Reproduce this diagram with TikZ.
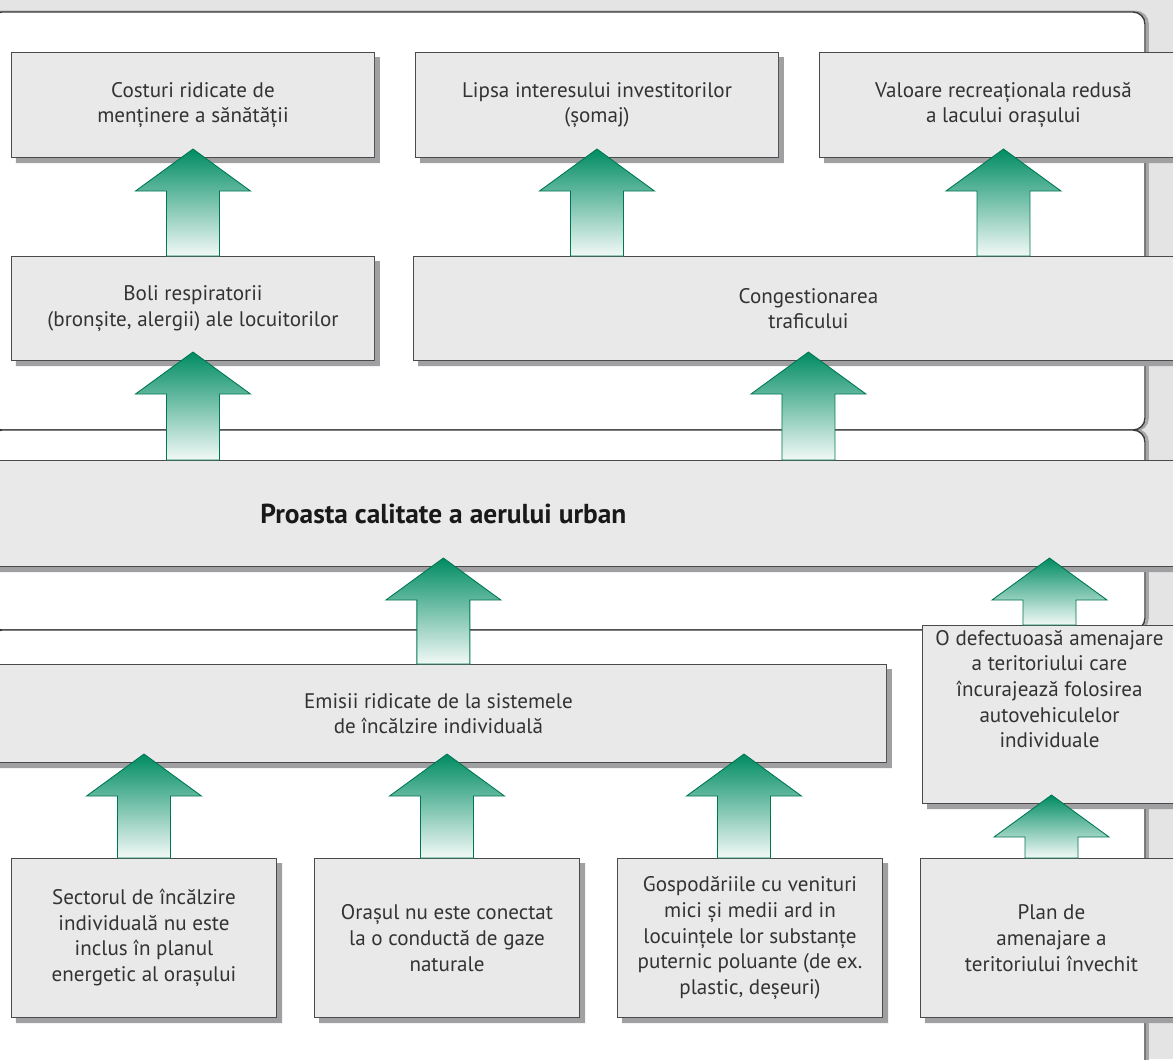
\documentclass[tikz,border=0pt]{standalone}
\usepackage{fontspec}
\setmainfont{PT Sans}
\usetikzlibrary{calc}

\definecolor{bggray}{HTML}{E4E4E5}
\definecolor{boxfill}{HTML}{E9E9EA}
\definecolor{boxline}{HTML}{4A4A4A}
\definecolor{shadowgray}{HTML}{A0A0A2}
\definecolor{panelline}{HTML}{3A3A3A}
\definecolor{textgray}{HTML}{333333}
\definecolor{arrowgreen}{HTML}{008C62}

\newcommand\growarrow[3]{%
    \path[greenarrow] let \p1=(#1), \p2=(#2.north), \p3=(#3.south) in
        (\x1-0.53cm,\y2) -- (\x1-0.53cm,\y3-0.66cm) -- (\x1-1.15cm,\y3-0.66cm)
        -- (\x1,\y3+0.18cm) -- (\x1+1.15cm,\y3-0.66cm) -- (\x1+0.53cm,\y3-0.66cm)
        -- (\x1+0.53cm,\y2) -- cycle;
}

\begin{document}
\begin{tikzpicture}[x=0.02cm, y=-0.02cm,
        font=\fontsize{12}{14.6}\selectfont,
        cause/.style={draw=boxline, line width=0.6pt, fill=boxfill, text=textgray, align=center,
            anchor=north west, inner sep=0pt},
        boxshade/.style={fill=shadowgray, draw=none},
        panel/.style={fill=white, draw=panelline, line width=0.8pt, rounded corners=0.24cm},
        panelshade/.style={draw=black!35, line width=1.6pt, rounded corners=0.24cm},
        greenarrow/.style={draw=arrowgreen!85!black, line width=0.5pt,
            top color=arrowgreen, middle color=arrowgreen!60, bottom color=arrowgreen!5}]
    \useasboundingbox (0,0) rectangle (1173,1059);
    \fill[bggray] (0,0) rectangle (1173,1059);
    \foreach \ya/\yb in {12/430, 430/630, 630/1075}
        {
            \draw[panelshade, xshift=0.05cm] (-10,\ya) -- (1145,\ya) -- (1145,\yb) -- (-10,\yb);
        }
    \foreach \ya/\yb in {12/430, 430/630, 630/1075}
        {
            \draw[panel] (-10,\ya) -- (1145,\ya) -- (1145,\yb) -- (-10,\yb) -- cycle;
        }

    \node[cause, minimum width=7.26cm, minimum height=2.1cm] (cost) at (11,52) {Costuri ridicate de\\ menținere a sănătății};
    \node[cause, minimum width=7.26cm, minimum height=2.1cm] (invest) at (415,52) {Lipsa interesului investitorilor\\ (șomaj)};
    \node[cause, minimum width=7.36cm, minimum height=2.1cm] (lake) at (819,52) {Valoare recreaționala redusă\\ a lacului orașului};
    \node[cause, minimum width=7.26cm, minimum height=2.08cm] (health) at (11,256) {Boli respiratorii\\ (bronșite, alergii) ale locuitorilor};
    \node[cause, minimum width=15.8cm, minimum height=2.08cm] (traffic) at (413,256) {Congestionarea\\ traficului};

    \node[cause, minimum width=29.72cm, minimum height=2.12cm, font=\fontsize{15.6}{18}\selectfont\bfseries,
        text=black!90] (air) at (-300,460) {Proasta calitate a aerului urban};

    \node[cause, minimum width=17.92cm, minimum height=1.96cm] (heating) at (-10,664) {Emisii ridicate de la sistemele\\ de încălzire individuală};
    \node[cause, minimum width=5.08cm, minimum height=3.56cm] (planning) at (922,625) {O defectuoasă amenajare\\ a teritoriului care\\ încurajează folosirea\\ autovehiculelor\\ individuale\\ ~\\ ~};

    \node[cause, minimum width=5.3cm, minimum height=3.18cm] (sector) at (11,858) {Sectorul de încălzire\\ individuală nu este\\ inclus în planul\\ energetic al orașului};
    \node[cause, minimum width=5.3cm, minimum height=3.18cm] (gas) at (314,858) {Orașul nu este conectat\\ la o conductă de gaze\\ naturale};
    \node[cause, minimum width=5.3cm, minimum height=3.18cm] (households) at (617,858) {Gospodăriile cu venituri\\ mici și medii ard in\\ locuințele lor substanțe\\ puternic poluante (de ex.\\ plastic, deșeuri)};
    \node[cause, minimum width=5.24cm, minimum height=3.18cm] (oldplan) at (920,858) {Plan de\\ amenajare a\\ teritoriului învechit};

    \foreach \b in {cost,invest,lake,health,traffic,air,heating,planning,sector,gas,households,oldplan}
        {
            \path[boxshade] let \p1=(\b.north east), \p2=(\b.south west) in
                (\x1,\y1-0.1cm) -- (\x1+0.1cm,\y1-0.1cm) -- (\x1+0.1cm,\y2-0.1cm)
                -- (\x2+0.1cm,\y2-0.1cm) -- (\x2+0.1cm,\y2) -- (\x1,\y2) -- cycle;
        }

    \growarrow{cost}{health}{cost}
    \growarrow{invest}{traffic}{invest}
    \growarrow{lake}{traffic}{lake}
    \growarrow{health}{air}{health}
    \growarrow{traffic}{air}{traffic}
    \growarrow{air}{heating}{air}
    \growarrow{planning}{planning}{air}
    \growarrow{sector}{sector}{heating}
    \growarrow{gas}{gas}{heating}
    \growarrow{[xshift=-0.12cm]households}{households}{heating}
    \growarrow{oldplan}{oldplan}{planning}
\end{tikzpicture}
\end{document}
